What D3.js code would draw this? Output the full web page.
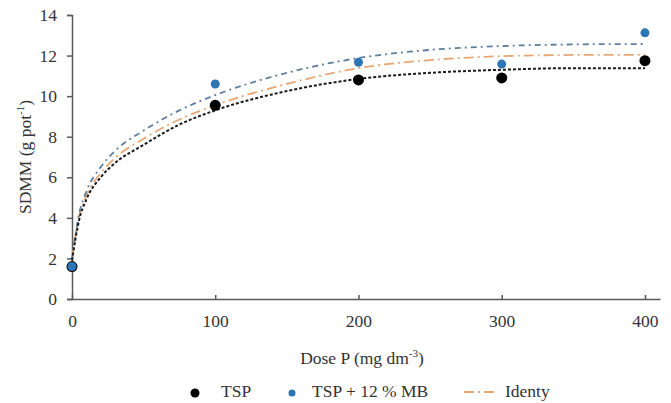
<!DOCTYPE html>
<html>
<head>
<meta charset="utf-8">
<script src="https://cdn.jsdelivr.net/npm/d3@7"></script>
<style>
  body { margin: 0; background: #fff; }
  svg text { font-family: "Liberation Serif", Tinos, "Times New Roman", serif !important; fill: #333; }
</style>
</head>
<body>
<svg width="671" height="403"></svg>
<script>
// observed points
var doses = [0, 100, 200, 300, 400];
var tsp = [1.6, 9.55, 10.8, 10.9, 11.75];
var tspMB = [1.6, 10.6, 11.67, 11.58, 13.12];

// fitted curves
var fitDoses = [0, 5, 10, 20, 30, 50, 75, 100, 150, 200, 250, 300, 350, 400];
var fitTSP = [1.9, 3.9, 4.9, 6.0, 6.7, 7.6, 8.6, 9.3, 10.25, 10.85, 11.15, 11.3, 11.38, 11.38];
var fitMB = [1.95, 4.2, 5.3, 6.5, 7.3, 8.3, 9.3, 10.05, 11.15, 11.88, 12.28, 12.47, 12.55, 12.57];
var fitIdenty = [2.0, 4.1, 5.1, 6.2, 6.95, 7.9, 8.85, 9.55, 10.6, 11.38, 11.78, 11.97, 12.03, 12.04];

var xTicks = [0, 100, 200, 300, 400];
var yTicks = [0, 2, 4, 6, 8, 10, 12, 14];

window.onload = function() {
    var svg = d3.select("svg"),
        x = d3.scaleLinear().domain([0, 410.5]).range([72, 660]),
        y = d3.scaleLinear().domain([0, 14]).range([299, 15]),
        axisColor = "#595959",
        fs = 17.5;

    // y axis
    var gy = svg.append("g")
        .attr("transform", "translate(72,0)")
        .call(d3.axisLeft(y).tickValues(yTicks).tickSize(5).tickPadding(10));
    gy.select(".domain").attr("stroke", axisColor).attr("stroke-width", 1.5);
    gy.selectAll(".tick line").attr("stroke", axisColor).attr("stroke-width", 1.5);
    gy.selectAll(".tick text").attr("font-size", fs);

    // x axis, ticks pointing inward
    var gx = svg.append("g")
        .attr("transform", "translate(0,299)")
        .call(d3.axisBottom(x).tickValues(xTicks).tickSize(0).tickPadding(16));
    gx.select(".domain").attr("stroke", axisColor).attr("stroke-width", 1.5);
    gx.selectAll(".tick").append("line")
        .attr("y1", 0).attr("y2", -4)
        .attr("stroke", axisColor).attr("stroke-width", 1.5);
    gx.selectAll(".tick text").attr("font-size", fs);

    // axis titles
    var xt = svg.append("text")
        .attr("x", 362).attr("y", 364)
        .attr("text-anchor", "middle")
        .attr("font-size", fs);
    xt.append("tspan").text("Dose P (mg dm");
    xt.append("tspan").attr("font-size", 11).attr("dy", -7).text("-3");
    xt.append("tspan").attr("dy", 7).text(")");

    var yt = svg.append("text")
        .attr("transform", "translate(31,157) rotate(-90)")
        .attr("text-anchor", "middle")
        .attr("font-size", fs);
    yt.append("tspan").text("SDMM (g pot");
    yt.append("tspan").attr("font-size", 11).attr("dy", -7).text("-1");
    yt.append("tspan").attr("dy", 7).text(")");

    var line = d3.line().curve(d3.curveMonotoneX);
    function fitPath(vals) {
        return line(fitDoses.map(function(d, i) { return [x(d), y(vals[i])]; }));
    }

    svg.append("path")
        .attr("d", fitPath(fitIdenty))
        .attr("fill", "none")
        .attr("stroke", "#e8a774")
        .attr("stroke-width", 1.8)
        .attr("stroke-dasharray", "10,4,2,4");

    svg.append("path")
        .attr("d", fitPath(fitMB))
        .attr("fill", "none")
        .attr("stroke", "#5f7f9e")
        .attr("stroke-width", 1.8)
        .attr("stroke-dasharray", "6,4,2,4");

    svg.append("path")
        .attr("d", fitPath(fitTSP))
        .attr("fill", "none")
        .attr("stroke", "#1a1a1a")
        .attr("stroke-width", 2)
        .attr("stroke-dasharray", "3,2");

    svg.append("g").selectAll("circle")
        .data(doses)
        .enter().append("circle")
        .attr("cx", function(d) { return x(d); })
        .attr("cy", function(d, i) { return y(tsp[i]); })
        .attr("r", 5.5)
        .attr("fill", "#000");

    svg.append("g").selectAll("circle")
        .data(doses)
        .enter().append("circle")
        .attr("cx", function(d) { return x(d); })
        .attr("cy", function(d, i) { return y(tspMB[i]); })
        .attr("r", 4.5)
        .attr("fill", "#2e75b6");

    // legend
    var lg = svg.append("g").attr("transform", "translate(0,392)");
    lg.append("circle").attr("cx", 195).attr("cy", 1).attr("r", 4.5).attr("fill", "#000");
    lg.append("text").attr("x", 221).attr("y", 5).attr("font-size", fs).text("TSP");
    lg.append("circle").attr("cx", 292).attr("cy", 1).attr("r", 3.5).attr("fill", "#2e75b6");
    lg.append("text").attr("x", 312).attr("y", 5).attr("font-size", fs).text("TSP + 12 % MB");
    lg.append("line")
        .attr("x1", 464).attr("x2", 496).attr("y1", 0).attr("y2", 0)
        .attr("stroke", "#e8a774").attr("stroke-width", 1.8)
        .attr("stroke-dasharray", "10,4,2,4");
    lg.append("text").attr("x", 505).attr("y", 5).attr("font-size", fs).text("Identy");
};
</script>
</body>
</html>
